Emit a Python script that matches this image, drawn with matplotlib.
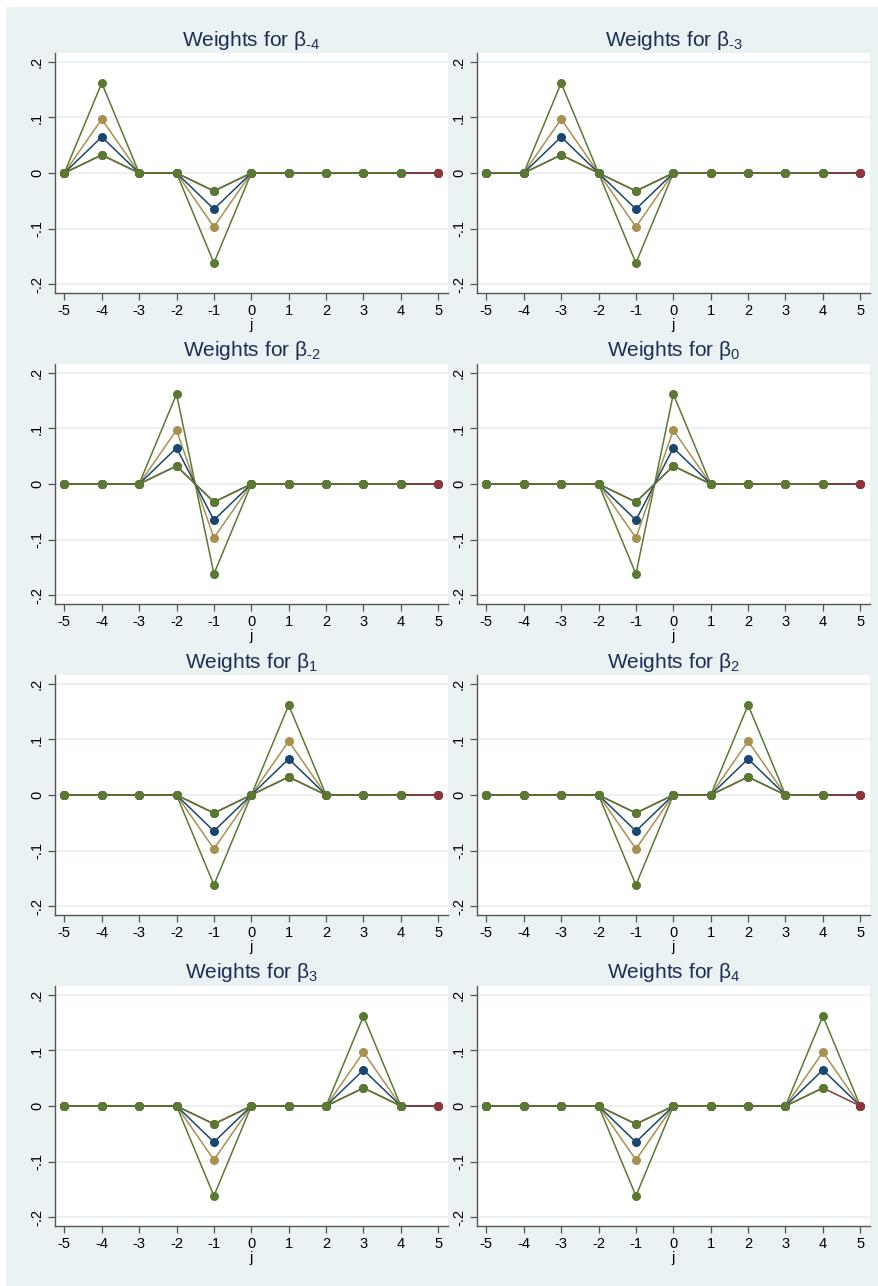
import numpy as np
import matplotlib
matplotlib.use("Agg")
import matplotlib.pyplot as plt
from matplotlib.patches import Rectangle

plt.rcParams["font.family"] = ["Liberation Sans", "DejaVu Sans"]
plt.rcParams["mathtext.fontset"] = "custom"
plt.rcParams["mathtext.rm"] = "Liberation Sans"
plt.rcParams["mathtext.default"] = "regular"
plt.rcParams["axes.unicode_minus"] = False

# data
j = np.arange(-5, 6)
peak_j = [-4, -3, -2, 0, 1, 2, 3, 4]       # the beta each panel belongs to
trough_j = -1
sub_labels = ["\u20104", "\u20103", "\u20102", "0", "1", "2", "3", "4"]
amp_outer = 0.162
amp_tan = 0.097
amp_navy = 0.065
amp_inner = 0.0325

yticks = [-0.2, -0.1, 0, 0.1, 0.2]
ytick_labels = ["-.2", "-.1", "0", ".1", ".2"]

BG = "#eaf2f3"
C_GREEN = "#5a7a32"
C_TAN = "#a89050"
C_NAVY = "#1a476f"
C_RED = "#90353b"
TITLE_C = "#1e2d55"

W, H = 879, 1286
fig = plt.figure(figsize=(W / 100, H / 100), dpi=100)
fig.patches.append(Rectangle((6 / W, 0), 1, 1 - 7 / H, transform=fig.transFigure,
                             facecolor=BG, edgecolor="none", zorder=-10))


def series(k, amp):
    y = np.zeros(len(j))
    y[j == k] = amp
    y[j == trough_j] = -amp
    return y


for i, k in enumerate(peak_j):
    r, c = divmod(i, 2)
    left = 55 + 422 * c
    top = 53 + 311 * r
    ax = fig.add_axes([left / W, 1 - (top + 240) / H, 393 / W, 240 / H])
    ax.set_facecolor("white")

    kw = dict(marker="o", markersize=6.5, linewidth=1.1, markeredgewidth=0)
    ax.plot(j, series(k, amp_outer), color=C_GREEN, **kw)
    ax.plot(j, series(k, amp_tan), color=C_TAN, **kw)
    ax.plot(j, series(k, amp_navy), color=C_NAVY, **kw)
    ax.plot(j, series(k, amp_inner), color=C_RED, **kw)
    # inner green stops at j=4, leaving the red segment 4->5 visible
    ax.plot(j[:-1], series(k, amp_inner)[:-1], color=C_GREEN, **kw)

    ax.set_xlim(-5.25, 5.26)
    ax.set_ylim(-0.2162, 0.2162)
    ax.set_xticks(j)
    ax.set_xticklabels([str(v) for v in j])
    ax.set_yticks(yticks)
    ax.set_yticklabels(ytick_labels, rotation=90, va="center")
    ax.grid(axis="y", color=BG, linewidth=1.5)
    ax.set_axisbelow(True)
    for s in ["top", "right"]:
        ax.spines[s].set_visible(False)
    for s in ["left", "bottom"]:
        ax.spines[s].set_color("#555555")
        ax.spines[s].set_linewidth(1.0)
    ax.tick_params(axis="both", length=5, width=0.9, color="#555555",
                   labelsize=10.5, labelcolor="black", pad=3)
    ax.set_xlabel("j", fontsize=10.5, labelpad=0)

    fig.text((left + 196.5) / W, 1 - (top - 13) / H,
             "Weights for β$_{" + sub_labels[i] + "}$",
             ha="center", va="center", fontsize=15, color=TITLE_C)

fig.savefig("out.png", dpi=100, facecolor="white")
